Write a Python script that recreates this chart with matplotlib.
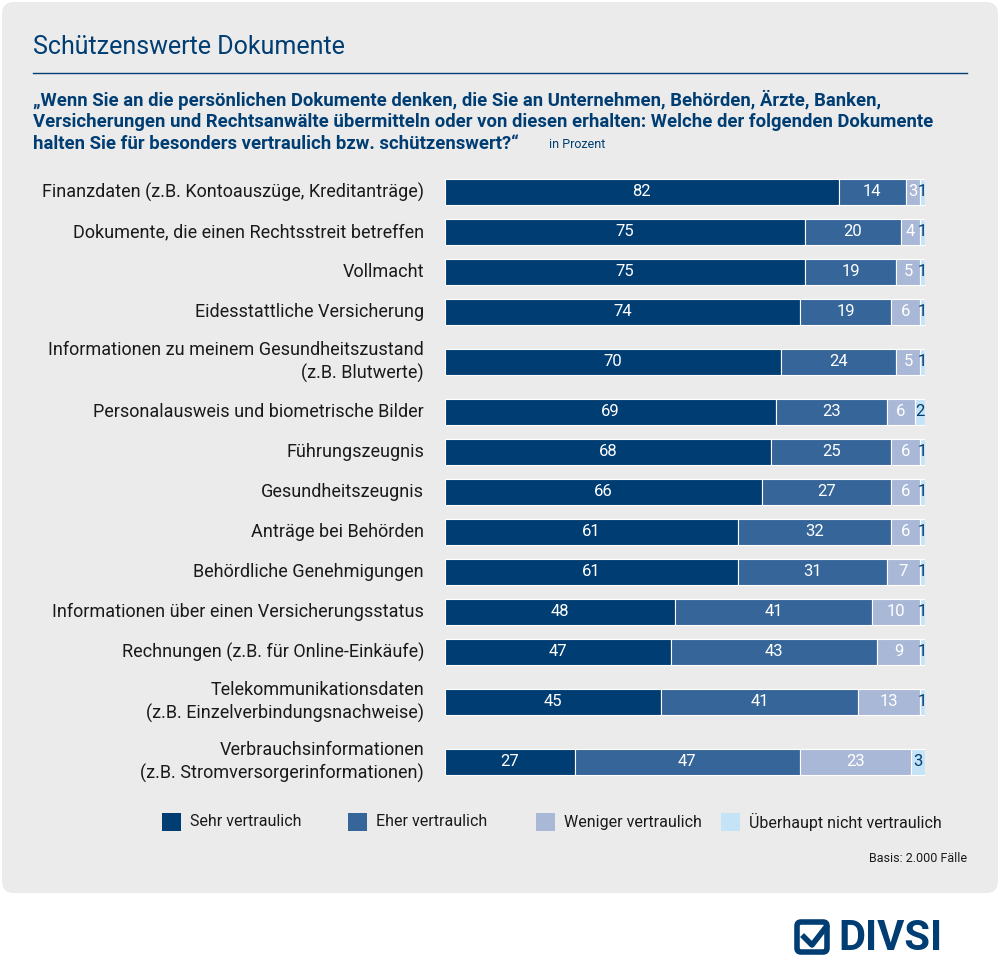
import matplotlib
matplotlib.use("Agg")
import matplotlib.pyplot as plt
from matplotlib.patches import FancyBboxPatch, Rectangle

plt.rcParams['font.family'] = ['Roboto', 'DejaVu Sans']

categories = ["Finanzdaten (z.B. Kontoauszüge, Kreditanträge)",
              "Dokumente, die einen Rechtsstreit betreffen",
              "Vollmacht",
              "Eidesstattliche Versicherung",
              "Informationen zu meinem Gesundheitszustand\n(z.B. Blutwerte)",
              "Personalausweis und biometrische Bilder",
              "Führungszeugnis",
              "Gesundheitszeugnis",
              "Anträge bei Behörden",
              "Behördliche Genehmigungen",
              "Informationen über einen Versicherungsstatus",
              "Rechnungen (z.B. für Online-Einkäufe)",
              "Telekommunikationsdaten\n(z.B. Einzelverbindungsnachweise)",
              "Verbrauchsinformationen\n(z.B. Stromversorgerinformationen)"]
sehr = [82, 75, 75, 74, 70, 69, 68, 66, 61, 61, 48, 47, 45, 27]
eher = [14, 20, 19, 19, 24, 23, 25, 27, 32, 31, 41, 43, 41, 47]
weniger = [3, 4, 5, 6, 5, 6, 6, 6, 6, 7, 10, 9, 13, 23]
nicht = [1, 1, 1, 1, 1, 2, 1, 1, 1, 1, 1, 1, 1, 3]
series = ["Sehr vertraulich", "Eher vertraulich", "Weniger vertraulich", "Überhaupt nicht vertraulich"]
colors = ["#003d73", "#366599", "#a9b8d6", "#c5e3f6"]

W, H = 1000, 977
fig = plt.figure(figsize=(W/100, H/100), dpi=100)
fig.patch.set_facecolor("white")
bg = fig.add_axes([0, 0, 1, 1]); bg.set_xlim(0, W); bg.set_ylim(H, 0); bg.axis("off")
bg.add_patch(FancyBboxPatch((2, 2), W-4, 891, boxstyle="round,pad=0,rounding_size=12",
                            fc="#ebebeb", ec="none"))
navy = "#003d73"
bg.text(33, 47, "Schützenswerte Dokumente", fontsize=18, color=navy, va="center")
bg.plot([33, 967], [73, 73], color=navy, lw=1)
sub = ["„Wenn Sie an die persönlichen Dokumente denken, die Sie an Unternehmen, Behörden, Ärzte, Banken,",
       "Versicherungen und Rechtsanwälte übermitteln oder von diesen erhalten: Welche der folgenden Dokumente",
       "halten Sie für besonders vertraulich bzw. schützenswert?“"]
for i, s in enumerate(sub):
    bg.text(33, 100 + 22*i, s, fontsize=13.3, color=navy, weight="bold", va="center")
bg.text(549, 145, "in Prozent", fontsize=9, color=navy, va="center")

ys = []
y = 192
for i, c in enumerate(categories):
    if i > 0:
        y += 40 + 10*(categories[i-1].count("\n")) + 10*c.count("\n")
    ys.append(y)

x0, x1 = 445, 925
ax = fig.add_axes([x0/W, 1-790/H, (x1-x0)/W, (790-170)/H])
ax.set_xlim(0, 100); ax.set_ylim(790, 170); ax.axis("off")
left = [0]*len(categories)
for vals, col in zip([sehr, eher, weniger, nicht], colors):
    ax.barh(ys, vals, left=left, height=26, color=col, edgecolor="white", lw=0.8)
    for yy, l, v in zip(ys, left, vals):
        tc = "#003d73" if col == colors[3] else "white"
        ax.text(l + v/2, yy, str(v), ha="center", va="center", color=tc, fontsize=12)
    left = [a+b for a, b in zip(left, vals)]
for yy, c in zip(ys, categories):
    bg.text(424, yy, c, ha="right", va="center", fontsize=13, color="#1a1a1a", linespacing=1.3)

lx = [162, 348, 536, 721]
for x, s, c in zip(lx, series, colors):
    bg.add_patch(Rectangle((x, 813), 19, 18, fc=c, ec="none"))
    bg.text(x+28, 822, s, va="center", fontsize=11.5, color="#1a1a1a")
bg.text(967, 858, "Basis: 2.000 Fälle", ha="right", va="center", fontsize=9, color="#1a1a1a")

bg.add_patch(FancyBboxPatch((797, 922), 30, 30, boxstyle="round,pad=0,rounding_size=4",
                            fc="none", ec=navy, lw=4))
bg.plot([804, 812, 826], [937, 945, 927], color=navy, lw=4)
bg.text(838, 938, "DIVSI", fontsize=30, weight="bold", color=navy, va="center")

fig.savefig("out.png", dpi=100, facecolor="white")
